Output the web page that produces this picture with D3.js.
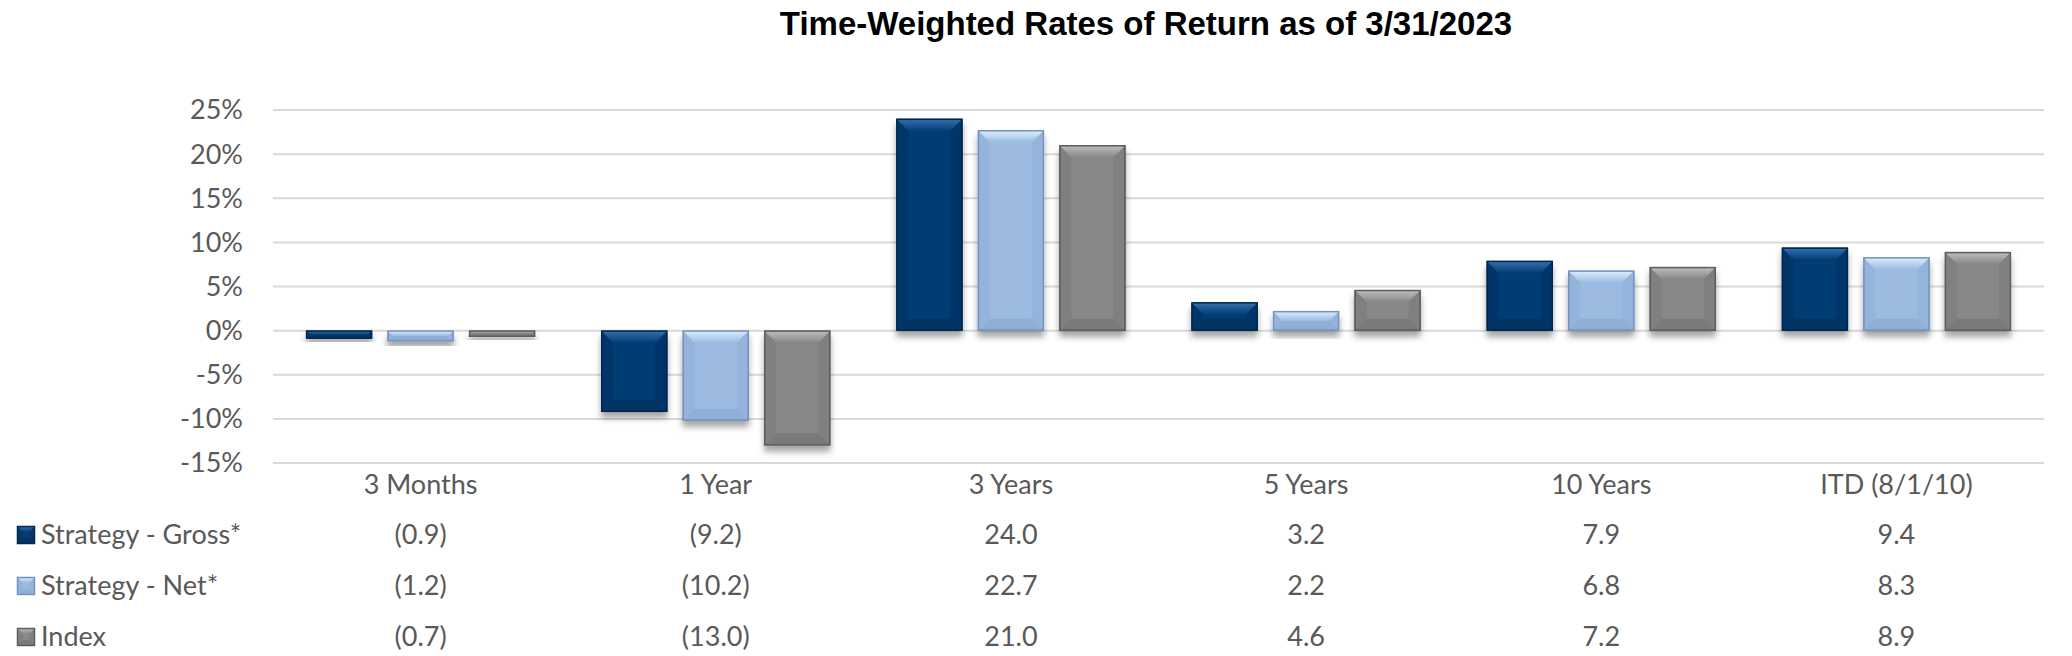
<!DOCTYPE html>
<html lang="en">
<head>
	<meta charset="utf-8">
	<title>Time-Weighted Rates of Return</title>
	<script src="https://cdn.jsdelivr.net/npm/d3@7/dist/d3.min.js"></script>
	<style>
		body {
			margin: 0;
			background: #fff;
		}
		.tick-label, .cat-label, .table-cell, .legend-label {
			font-family: "Lato", "Open Sans", sans-serif;
			font-size: 27px;
			fill: #595959;
		}
		.title {
			font-family: "Liberation Sans", Arial, sans-serif;
			font-weight: bold;
			font-size: 33px;
			fill: #000;
		}
	</style>
</head>
<body>
	<script>
		// chart data
		var categories = [ "3 Months", "1 Year", "3 Years", "5 Years", "10 Years", "ITD (8/1/10)" ];
		var seriesNames = [ "Strategy - Gross*", "Strategy - Net*", "Index" ];
		var gross = [ -0.9, -9.2, 24.0, 3.2, 7.9, 9.4 ];
		var net = [ -1.2, -10.2, 22.7, 2.2, 6.8, 8.3 ];
		var index = [ -0.7, -13.0, 21.0, 4.6, 7.2, 8.9 ];
		var yTicks = [ 25, 20, 15, 10, 5, 0, -5, -10, -15 ];

		var seriesValues = [ gross, net, index ];

		// colours per series: base, top bevel, side bevel, bottom bevel, outline
		var palette = [
			{ base: "#063c74", top: "#3573b0", side: "#05366a", bottom: "#053463", line: "#03284d" },
			{ base: "#9dbbe1", top: "#dcf0ff", side: "#95b4dc", bottom: "#8fafd7", line: "#7393bd" },
			{ base: "#888888", top: "#c0c0c0", side: "#808080", bottom: "#7a7a7a", line: "#5c5c5c" }
		];

		var width = 2072;
		var height = 656;

		var svg = d3.select( "body" )
			.append( "svg" )
			.attr( "width", width )
			.attr( "height", height );

		var defs = svg.append( "defs" );
		var shadow = defs.append( "filter" )
			.attr( "id", "shadow" )
			.attr( "x", "-20%" ).attr( "y", "-20%" )
			.attr( "width", "140%" ).attr( "height", "160%" );
		shadow.append( "feDropShadow" )
			.attr( "dx", 0 ).attr( "dy", 6 )
			.attr( "stdDeviation", 3 )
			.attr( "flood-color", "#000" )
			.attr( "flood-opacity", 0.35 );

		// soft gradient for the top bevel of each series
		palette.forEach( function( c, s ) {
			var grad = defs.append( "linearGradient" )
				.attr( "id", "topGrad" + s )
				.attr( "x1", 0 ).attr( "y1", 0 )
				.attr( "x2", 0 ).attr( "y2", 1 );
			grad.append( "stop" ).attr( "offset", "0%" ).attr( "stop-color", c.top );
			grad.append( "stop" ).attr( "offset", "100%" ).attr( "stop-color", c.base );
		});

		// scales
		var x0 = d3.scaleBand()
			.domain( categories )
			.range( [273, 2044] );

		var x1 = d3.scaleBand()
			.domain( d3.range( seriesNames.length ) )
			.range( [-122.25, 122.25] )
			.paddingInner( 0.19 )
			.paddingOuter( 0.095 );

		var y = d3.scaleLinear()
			.domain( [-15, 25] )
			.range( [463, 110] );

		// title
		svg.append( "text" )
			.attr( "class", "title" )
			.attr( "x", 1146 )
			.attr( "y", 35 )
			.attr( "text-anchor", "middle" )
			.text( "Time-Weighted Rates of Return as of 3/31/2023" );

		// gridlines
		svg.append( "g" )
			.selectAll( "line" )
			.data( yTicks )
			.enter()
			.append( "line" )
			.attr( "x1", x0.range()[0] )
			.attr( "x2", x0.range()[1] )
			.attr( "y1", function(d){ return y(d); } )
			.attr( "y2", function(d){ return y(d); } )
			.attr( "stroke", "#d9d9d9" )
			.attr( "stroke-width", 2 );

		// y axis labels
		svg.append( "g" )
			.selectAll( "text" )
			.data( yTicks )
			.enter()
			.append( "text" )
			.attr( "class", "tick-label" )
			.attr( "x", 243 )
			.attr( "y", function(d){ return y(d); } )
			.attr( "dy", "0.35em" )
			.attr( "text-anchor", "end" )
			.text( function(d){ return d + "%"; } );

		// bevelled bar
		function bevelBar( g, x, yTop, w, h, c, s, size ) {
			var b = Math.min( size, h / 2, w / 2 );
			g.append( "rect" )
				.attr( "x", x ).attr( "y", yTop )
				.attr( "width", w ).attr( "height", h )
				.attr( "fill", c.base );
			var pts = {
				top: [[x, yTop], [x + w, yTop], [x + w - b, yTop + b], [x + b, yTop + b]],
				bottom: [[x, yTop + h], [x + w, yTop + h], [x + w - b, yTop + h - b], [x + b, yTop + h - b]],
				left: [[x, yTop], [x + b, yTop + b], [x + b, yTop + h - b], [x, yTop + h]],
				right: [[x + w, yTop], [x + w - b, yTop + b], [x + w - b, yTop + h - b], [x + w, yTop + h]]
			};
			g.append( "polygon" ).attr( "points", pts.left.join( " " ) ).attr( "fill", c.side );
			g.append( "polygon" ).attr( "points", pts.right.join( " " ) ).attr( "fill", c.side );
			g.append( "polygon" ).attr( "points", pts.bottom.join( " " ) ).attr( "fill", c.bottom );
			g.append( "polygon" ).attr( "points", pts.top.join( " " ) ).attr( "fill", "url(#topGrad" + s + ")" );
			g.append( "rect" )
				.attr( "x", x + 0.5 ).attr( "y", yTop + 0.5 )
				.attr( "width", Math.max( 0, w - 1 ) ).attr( "height", Math.max( 0, h - 1 ) )
				.attr( "fill", "none" )
				.attr( "stroke", c.line )
				.attr( "stroke-width", 1.5 );
		}

		// bars
		var bars = svg.append( "g" );
		seriesValues.forEach( function( values, s ) {
			values.forEach( function( v, i ) {
				var g = bars.append( "g" ).attr( "filter", "url(#shadow)" );
				var cx = x0( categories[i] ) + x0.bandwidth() / 2;
				var top = y( Math.max( 0, v ) );
				var h = Math.abs( y( v ) - y( 0 ) );
				bevelBar( g, cx + x1( s ), top, x1.bandwidth(), h, palette[s], s, 12 );
			});
		});

		// category labels
		svg.append( "g" )
			.selectAll( "text" )
			.data( categories )
			.enter()
			.append( "text" )
			.attr( "class", "cat-label" )
			.attr( "x", function(d){ return x0(d) + x0.bandwidth() / 2; } )
			.attr( "y", 485 )
			.attr( "dy", "0.35em" )
			.attr( "text-anchor", "middle" )
			.text( function(d){ return d; } );

		// data table
		var rowY = [ 535, 586, 637 ];
		function fmt( v ) {
			return v < 0 ? "(" + Math.abs( v ).toFixed( 1 ) + ")" : v.toFixed( 1 );
		}

		seriesValues.forEach( function( values, s ) {
			var row = svg.append( "g" );

			bevelBar( row.append( "g" ), 17, rowY[s] - 9, 18, 18, palette[s], s, 6 );

			row.append( "text" )
				.attr( "class", "legend-label" )
				.attr( "x", 41 )
				.attr( "y", rowY[s] )
				.attr( "dy", "0.35em" )
				.text( seriesNames[s] );

			row.selectAll( "text.table-cell" )
				.data( values )
				.enter()
				.append( "text" )
				.attr( "class", "table-cell" )
				.attr( "x", function(d, i){ return x0( categories[i] ) + x0.bandwidth() / 2; } )
				.attr( "y", rowY[s] )
				.attr( "dy", "0.35em" )
				.attr( "text-anchor", "middle" )
				.text( fmt );
		});
	</script>
</body>
</html>
